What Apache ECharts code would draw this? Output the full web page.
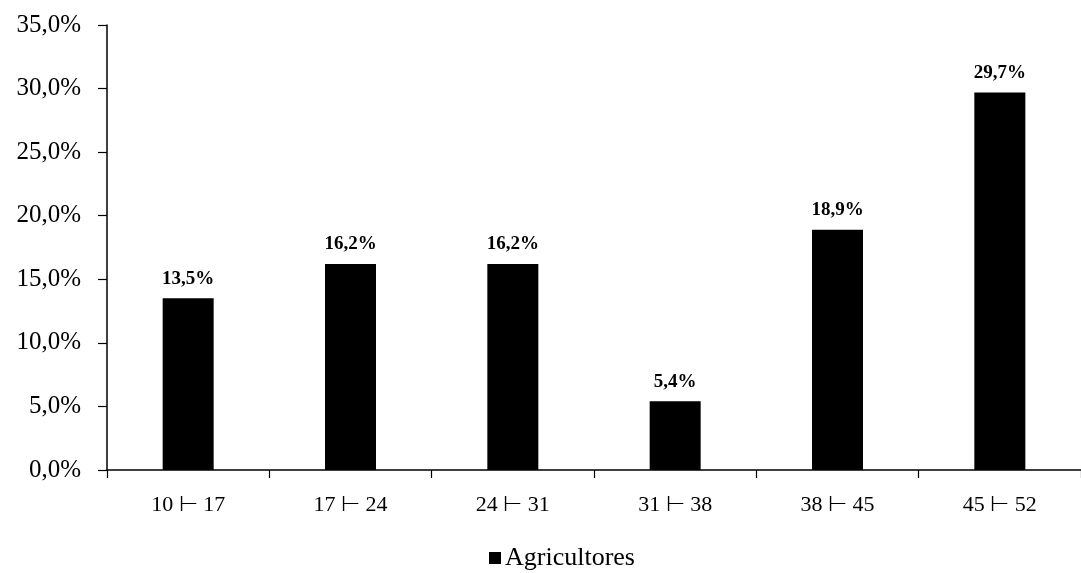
<!DOCTYPE html>
<html>
<head>
<meta charset="utf-8">
<script src="https://cdn.jsdelivr.net/npm/echarts@6/dist/echarts.min.js"></script>
<style>
  html, body { margin: 0; padding: 0; background: #fff; }
  #chart { width: 1081px; height: 573px; }
</style>
</head>
<body>
<div id="chart"></div>
<script>
// Age classes (years) and share of farmers in each class (%)
const categories = ['10 ⊢ 17', '17 ⊢ 24', '24 ⊢ 31', '31 ⊢ 38', '38 ⊢ 45', '45 ⊢ 52'];
const agricultores = [13.5, 16.2, 16.2, 5.4, 18.9, 29.7];
const seriesName = 'Agricultores';

const fmt = v => v.toFixed(1).replace('.', ',') + '%';
const serif = '"Liberation Serif", "Times New Roman", serif';

const chart = echarts.init(document.getElementById('chart'));
chart.setOption({
  animation: false,
  backgroundColor: '#fff',
  grid: { left: 107, right: -3, top: 25, bottom: 103 },
  legend: {
    bottom: -3,
    left: 484,
    itemWidth: 12,
    itemHeight: 12,
    itemGap: 4,
    icon: 'rect',
    textStyle: { fontFamily: serif, fontSize: 26, color: '#000', padding: [0, 0, 0, -1] },
    data: [seriesName]
  },
  xAxis: {
    type: 'category',
    data: categories,
    axisLine: { lineStyle: { color: '#000', width: 1.5 } },
    axisTick: { show: true, inside: false, length: 8, lineStyle: { color: '#000', width: 1.2 } },
    axisLabel: { fontFamily: serif, fontSize: 22, color: '#000', margin: 24 }
  },
  yAxis: {
    type: 'value',
    min: 0,
    max: 35,
    interval: 5,
    axisLine: { show: true, lineStyle: { color: '#000', width: 1.5 } },
    axisTick: { show: true, length: 9, lineStyle: { color: '#000', width: 1.2 } },
    splitLine: { show: false },
    axisLabel: {
      fontFamily: serif, fontSize: 25, color: '#000', margin: 26,
      formatter: fmt
    }
  },
  series: [{
    name: seriesName,
    type: 'bar',
    data: agricultores,
    barWidth: 51,
    itemStyle: { color: '#000' },
    label: {
      show: true,
      position: 'top',
      distance: 10,
      fontFamily: serif,
      fontWeight: 'bold',
      fontSize: 19,
      color: '#000',
      formatter: p => fmt(p.value)
    }
  }]
});
</script>
</body>
</html>
